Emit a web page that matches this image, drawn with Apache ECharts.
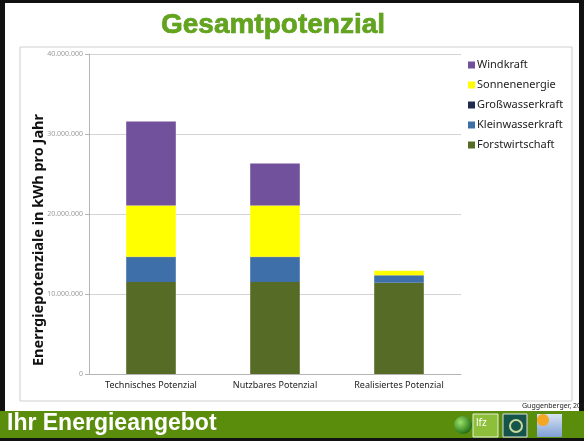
<!DOCTYPE html>
<html>
<head>
<meta charset="utf-8">
<script src="https://cdn.jsdelivr.net/npm/echarts@6/dist/echarts.min.js"></script>
<style>
  html, body { margin: 0; padding: 0; background: #fff; }
  #chart { width: 584px; height: 441px; }
</style>
</head>
<body>
<div id="chart"></div>
<script>
// Werte in kWh pro Jahr, aus dem Bild geschätzt
const categories = ['Technisches Potenzial', 'Nutzbares Potenzial', 'Realisiertes Potenzial']
const forstwirtschaft = [11500000, 11500000, 11400000]
const grosswasserkraft = [50000, 50000, 50000]
const kleinwasserkraft = [3100000, 3100000, 900000]
const sonnenenergie = [6400000, 6400000, 550000]
const windkraft = [10500000, 5250000, 0]
const legendOrder = ['Windkraft', 'Sonnenenergie', 'Großwasserkraft', 'Kleinwasserkraft', 'Forstwirtschaft']

const chart = echarts.init(document.getElementById('chart'))

const fmt = (v) => String(v).replace(/\B(?=(\d{3})+(?!\d))/g, '.')

const bar = (name, data, color) => ({
  name,
  type: 'bar',
  stack: 'total',
  barWidth: '40%',
  data,
  itemStyle: { color },
  emphasis: { disabled: true }
})

chart.setOption({
  animation: false,
  backgroundColor: '#fff',
  grid: { left: 89, right: 123, top: 54, bottom: 67 },
  legend: {
    orient: 'vertical',
    left: 463,
    top: 54,
    icon: 'rect',
    itemWidth: 7,
    itemHeight: 7,
    itemGap: 8,
    data: legendOrder,
    textStyle: { fontFamily: 'Noto Sans', fontSize: 11, color: '#222', lineHeight: 12, padding: [0, 0, 0, -3] }
  },
  xAxis: {
    type: 'category',
    data: categories,
    axisLine: { lineStyle: { color: '#b5b5b5' } },
    axisTick: { length: 4, lineStyle: { color: '#b5b5b5' } },
    axisLabel: { fontFamily: 'Noto Sans', fontSize: 9, color: '#222', margin: 7 }
  },
  yAxis: {
    type: 'value',
    min: 0,
    max: 40000000,
    interval: 10000000,
    axisLine: { show: true, lineStyle: { color: '#b5b5b5' } },
    axisTick: { show: true, length: 4, lineStyle: { color: '#b5b5b5' } },
    splitLine: { lineStyle: { color: '#d4d4d4' } },
    axisLabel: { fontFamily: 'Noto Sans', fontSize: 7, color: '#999', margin: 6, formatter: fmt }
  },
  series: [
    bar('Forstwirtschaft', forstwirtschaft, '#566b25'),
    bar('Kleinwasserkraft', kleinwasserkraft, '#3f6fa8'),
    bar('Großwasserkraft', grosswasserkraft, '#1f2a4f'),
    bar('Sonnenenergie', sonnenenergie, '#ffff00'),
    bar('Windkraft', windkraft, '#71519b')
  ],
  graphic: [
    // Diagrammrahmen
    { type: 'rect', shape: { x: 20, y: 47, width: 552, height: 354 }, style: { fill: 'none', stroke: '#cfcfcf', lineWidth: 1 }, z: -1 },
    // Folienrahmen
    { type: 'rect', shape: { x: 0, y: 0, width: 5, height: 441 }, style: { fill: '#111' } },
    { type: 'rect', shape: { x: 579, y: 0, width: 5, height: 441 }, style: { fill: '#111' } },
    { type: 'rect', shape: { x: 0, y: 0, width: 584, height: 3 }, style: { fill: '#111' } },
    { type: 'rect', shape: { x: 0, y: 411, width: 584, height: 27 }, style: { fill: '#5b8d0d' } },
    { type: 'rect', shape: { x: 0, y: 438, width: 584, height: 3 }, style: { fill: '#111' } },
    {
      type: 'text', x: 273, y: 25,
      style: {
        text: 'Gesamtpotenzial',
        font: 'bold 28px "Liberation Sans"',
        fill: '#62a51c',
        stroke: '#4a8a12',
        lineWidth: 0.6,
        textAlign: 'center',
        textVerticalAlign: 'middle',
        shadowColor: 'rgba(0,0,0,0.3)', shadowBlur: 2, shadowOffsetY: 1
      }
    },
    {
      type: 'text', x: 39, y: 240, rotation: Math.PI / 2,
      style: {
        text: 'Enerrgiepotenziale in kWh pro Jahr',
        font: 'bold 14.5px "Noto Sans"',
        fill: '#111',
        textAlign: 'center',
        textVerticalAlign: 'middle'
      }
    },
    {
      type: 'text', x: 522, y: 402,
      style: { text: 'Guggenberger, 2011', font: '7px "Noto Sans"', fill: '#222' }
    },
    {
      type: 'text', x: 7, y: 424,
      style: { text: 'Ihr Energieangebot', font: 'bold 23px "Liberation Sans"', fill: '#fff', textVerticalAlign: 'middle' }
    },
    // Logos
    {
      type: 'circle', shape: { cx: 463, cy: 425, r: 9 },
      style: { fill: new echarts.graphic.RadialGradient(0.35, 0.35, 0.7, [{ offset: 0, color: '#9be36a' }, { offset: 1, color: '#1f6b12' }]) }
    },
    { type: 'rect', shape: { x: 473, y: 414, width: 25, height: 23 }, style: { fill: '#8dbf3a', stroke: '#e8f0d8', lineWidth: 1 } },
    { type: 'text', x: 476, y: 418, style: { text: 'lfz', font: '10px "Noto Sans"', fill: '#fff' } },
    { type: 'rect', shape: { x: 503, y: 414, width: 24, height: 23 }, style: { fill: '#14544a', stroke: '#e0e0e0', lineWidth: 1 } },
    { type: 'circle', shape: { cx: 516, cy: 426, r: 6 }, style: { fill: 'none', stroke: '#c9d89a', lineWidth: 2 } },
    {
      type: 'rect', shape: { x: 537, y: 414, width: 25, height: 23 },
      style: { fill: new echarts.graphic.LinearGradient(0, 0, 0, 1, [{ offset: 0, color: '#d7e3f2' }, { offset: 1, color: '#7f9fd6' }]) }
    },
    { type: 'circle', shape: { cx: 543, cy: 420, r: 6 }, style: { fill: '#f5a623' } }
  ]
})
</script>
</body>
</html>
